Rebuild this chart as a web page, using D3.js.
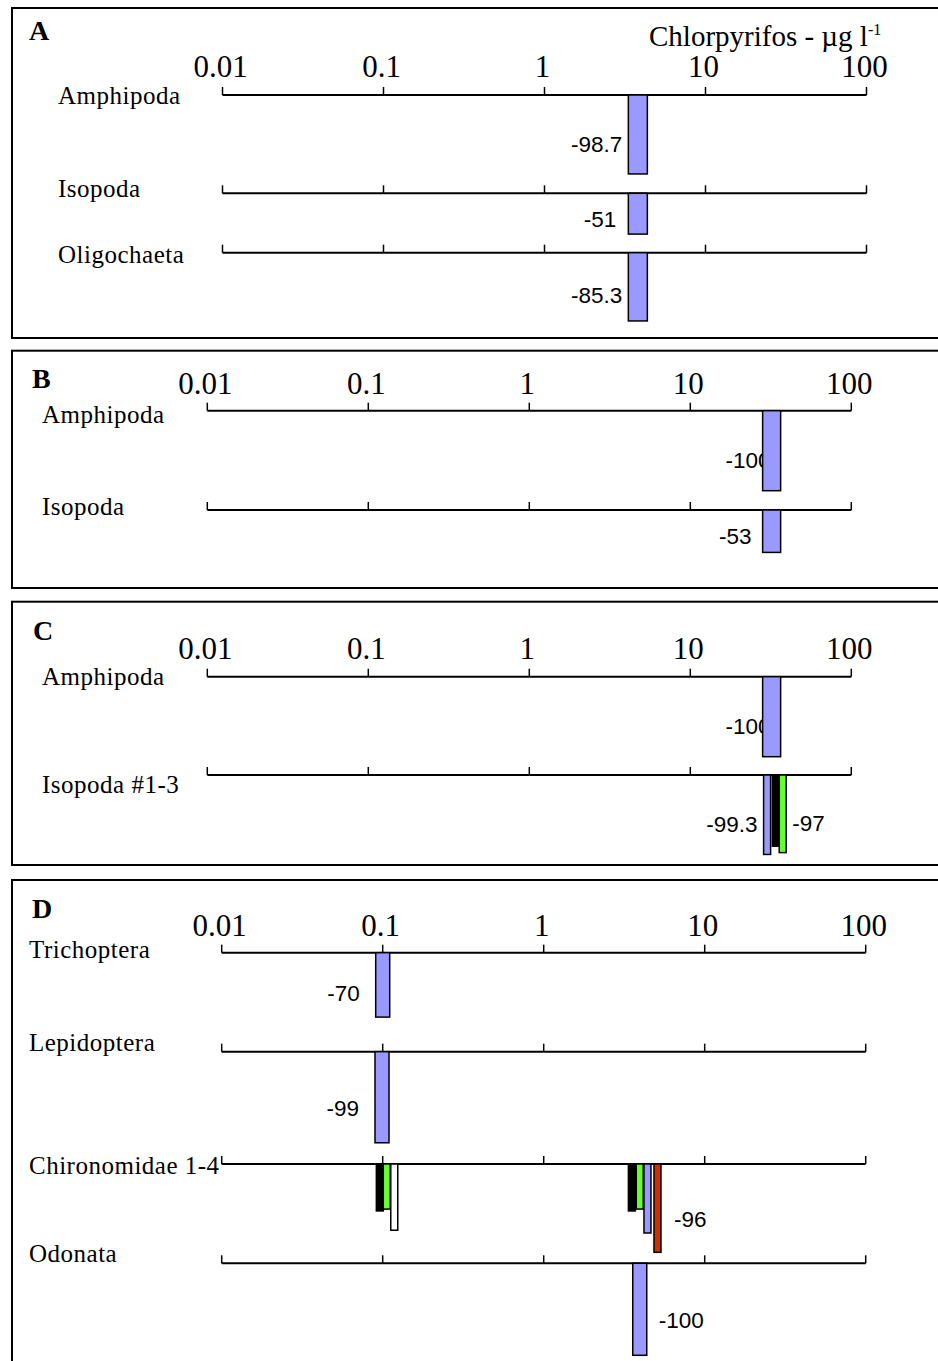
<!DOCTYPE html>
<html>
<head>
<meta charset="utf-8">
<script src="https://cdn.jsdelivr.net/npm/d3@7"></script>
<style>
  body { margin: 0; background: #fff; }
  svg { display: block; }
</style>
</head>
<body>
<svg id="chart" width="938" height="1361"></svg>
<script>
const width = 938;
const height = 1361;
const svg = d3.select("#chart");

// data
const panelIds = ["A", "B", "C", "D"];
const tickValues = [0.01, 0.1, 1, 10, 100];
const tickLabels = ["0.01", "0.1", "1", "10", "100"];
const unitLabel = "Chlorpyrifos - µg l";
const unitSup = "-1";

const taxaA = ["Amphipoda", "Isopoda", "Oligochaeta"];
const taxaB = ["Amphipoda", "Isopoda"];
const taxaC = ["Amphipoda", "Isopoda #1-3"];
const taxaD = ["Trichoptera", "Lepidoptera", "Chironomidae 1-4", "Odonata"];

// conc = chlorpyrifos µg/l, effect = % change in abundance
const barsA = [
  { taxon: "Amphipoda",   conc: 3.8, effect: -98.7, series: "s1", label: "left" },
  { taxon: "Isopoda",     conc: 3.8, effect: -51,   series: "s1", label: "left" },
  { taxon: "Oligochaeta", conc: 3.8, effect: -85.3, series: "s1", label: "left" }
];
const barsB = [
  { taxon: "Amphipoda", conc: 32, effect: -100, series: "s1", label: "left" },
  { taxon: "Isopoda",   conc: 32, effect: -53,  series: "s1", label: "left" }
];
const barsC = [
  { taxon: "Amphipoda",    conc: 32,   effect: -100,  series: "s1", label: "left" },
  { taxon: "Isopoda #1-3", conc: 30,   effect: -99.3, series: "s1", label: "left" },
  { taxon: "Isopoda #1-3", conc: 34,   effect: -89,   series: "s2", label: null },
  { taxon: "Isopoda #1-3", conc: 37.5, effect: -97,   series: "s3", label: "right" }
];
const barsD = [
  { taxon: "Trichoptera",      conc: 0.1,   effect: -70, series: "s1", label: "left" },
  { taxon: "Lepidoptera",      conc: 0.099, effect: -99, series: "s1", label: "left" },
  { taxon: "Chironomidae 1-4", conc: 0.096, effect: -51, series: "s2", label: null },
  { taxon: "Chironomidae 1-4", conc: 0.106, effect: -49, series: "s3", label: null },
  { taxon: "Chironomidae 1-4", conc: 0.118, effect: -72, series: "s4", label: null },
  { taxon: "Chironomidae 1-4", conc: 3.53,  effect: -51, series: "s2", label: null },
  { taxon: "Chironomidae 1-4", conc: 3.95,  effect: -49, series: "s3", label: null },
  { taxon: "Chironomidae 1-4", conc: 4.41,  effect: -75, series: "s1", label: null },
  { taxon: "Chironomidae 1-4", conc: 5.09,  effect: -96, series: "s5", label: "right" },
  { taxon: "Odonata",          conc: 3.95,  effect: -100, series: "s1", label: "right" }
];

const taxaByPanel = { A: taxaA, B: taxaB, C: taxaC, D: taxaD };
const barsByPanel = { A: barsA, B: barsB, C: barsC, D: barsD };

// styles / layout
const seriesColor = d3.scaleOrdinal()
  .domain(["s1", "s2", "s3", "s4", "s5"])
  .range(["#9999ff", "#000000", "#66ff33", "#ffffff", "#cc3300"]);

const layout = {
  A: { top: 8,   bottom: 338,  x0: 222.5, rows: [95, 193.3, 252.7], nameDy: [9, 3.5, 10.5],
       tickY: 77, letterX: 29, letterY: 40, nameX: 58, pxMax: 80, barW: 19 },
  B: { top: 350.7, bottom: 588, x0: 207.3, rows: [410.7, 510], nameDy: [12, 5],
       tickY: 394, letterX: 32, letterY: 388, nameX: 42, pxMax: 80, barW: 18 },
  C: { top: 601.7, bottom: 865, x0: 207.3, rows: [676.7, 775], nameDy: [8, 17.5],
       tickY: 659, letterX: 33, letterY: 640, nameX: 42, pxMax: 80, barW: 18 },
  D: { top: 880, bottom: 1420, x0: 221.7, rows: [952.7, 1051.7, 1164, 1263.3], nameDy: [5.5, -1, 10, -1],
       tickY: 936, letterX: 32, letterY: 918, nameX: 29, pxMax: 92, barW: 14 }
};
const decade = 161;
const clusterW = 7;
const labelGap = 6;
const labelNudge = { "A-Isopoda": 6, "B-Isopoda": 5, "B-Amphipoda": -14, "C-Amphipoda": -14,
                     "D-Trichoptera": 10, "D-Lepidoptera": 10, "D-Chironomidae 1-4": 7, "D-Odonata": 6 };
const serif = "'Liberation Serif', 'Times New Roman', serif";
const sans = "'Liberation Sans', Arial, sans-serif";

function drawPanel(id) {
  const L = layout[id];
  const taxa = taxaByPanel[id];
  const bars = barsByPanel[id];
  const g = svg.append("g");

  const x = d3.scaleLog().domain([0.01, 100]).range([L.x0, L.x0 + 4 * decade]);
  const h = d3.scaleLinear().domain([0, 100]).range([0, L.pxMax]);
  const rowY = d3.scaleOrdinal().domain(taxa).range(L.rows);

  g.append("rect")
    .attr("x", 12).attr("y", L.top)
    .attr("width", 1000).attr("height", L.bottom - L.top)
    .attr("fill", "#fff").attr("stroke", "#000").attr("stroke-width", 2);

  g.append("text")
    .attr("x", L.letterX).attr("y", L.letterY)
    .attr("font-family", serif).attr("font-weight", "bold").attr("font-size", 28)
    .text(id);

  g.selectAll("text.tick")
    .data(tickValues)
    .join("text")
    .attr("class", "tick")
    .attr("x", d => x(d) - 2)
    .attr("y", L.tickY)
    .attr("text-anchor", "middle")
    .attr("font-family", serif).attr("font-size", 31)
    .text((d, i) => tickLabels[i]);

  const rows = g.selectAll("g.row")
    .data(taxa)
    .join("g")
    .attr("class", "row");

  rows.append("text")
    .attr("x", L.nameX)
    .attr("y", (d, i) => rowY(d) + L.nameDy[i])
    .attr("font-family", serif).attr("font-size", 25).attr("letter-spacing", 0.5)
    .text(d => d);

  rows.append("line")
    .attr("x1", x(0.01)).attr("x2", x(100))
    .attr("y1", d => rowY(d)).attr("y2", d => rowY(d))
    .attr("stroke", "#000").attr("stroke-width", 2);

  rows.each(function(t) {
    d3.select(this).selectAll("line.tk")
      .data(tickValues)
      .join("line")
      .attr("class", "tk")
      .attr("x1", d => x(d)).attr("x2", d => x(d))
      .attr("y1", rowY(t) - 8).attr("y2", rowY(t))
      .attr("stroke", "#000").attr("stroke-width", 1.5);
  });

  // width of a bar: narrow when several bars share a row
  const counts = d3.rollup(bars, v => v.length, d => d.taxon);
  const bw = d => counts.get(d.taxon) > 1 ? clusterW : L.barW;

  g.selectAll("text.val")
    .data(bars.filter(d => d.label))
    .join("text")
    .attr("class", "val")
    .attr("x", d => {
      const gap = labelGap + (labelNudge[id + "-" + d.taxon] || 0);
      return d.label === "left" ? x(d.conc) - bw(d) / 2 - gap : x(d.conc) + bw(d) / 2 + gap;
    })
    .attr("y", d => rowY(d.taxon) + h(-d.effect) * 0.62)
    .attr("dy", "0.36em")
    .attr("text-anchor", d => d.label === "left" ? "end" : "start")
    .attr("font-family", sans).attr("font-size", 22.5)
    .text(d => d.effect);

  g.selectAll("rect.bar")
    .data(bars)
    .join("rect")
    .attr("class", "bar")
    .attr("x", d => x(d.conc) - bw(d) / 2)
    .attr("y", d => rowY(d.taxon))
    .attr("width", bw)
    .attr("height", d => h(-d.effect))
    .attr("fill", d => seriesColor(d.series))
    .attr("stroke", "#000").attr("stroke-width", 1.5);

  if (id === "A") {
    const t = g.append("text")
      .attr("x", 649).attr("y", 46)
      .attr("font-family", serif).attr("font-size", 29);
    t.append("tspan").text(unitLabel);
    t.append("tspan").attr("dy", -11).attr("font-size", 16).text(unitSup);
  }
}

panelIds.forEach(drawPanel);
</script>
</body>
</html>
